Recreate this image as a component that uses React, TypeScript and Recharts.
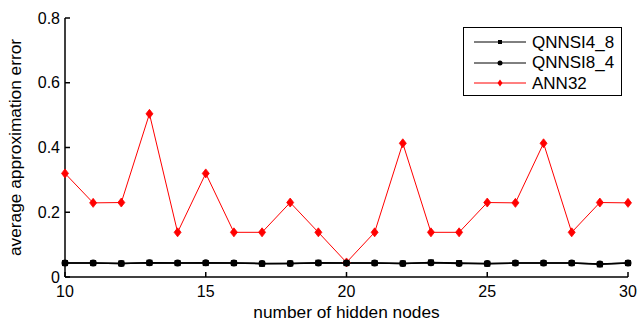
import React from 'react';
import {
  LineChart,
  Line,
  XAxis,
  YAxis,
  Legend,
} from 'recharts';

// hidden node counts on the x axis
const hiddenNodes = [10, 11, 12, 13, 14, 15, 16, 17, 18, 19, 20, 21, 22, 23, 24, 25, 26, 27, 28, 29, 30];

const qnnsi48 = [0.043, 0.043, 0.042, 0.044, 0.043, 0.043, 0.043, 0.041, 0.042, 0.044, 0.043, 0.043, 0.042, 0.045, 0.043, 0.041, 0.043, 0.043, 0.043, 0.039, 0.043];
const qnnsi84 = [0.043, 0.043, 0.042, 0.044, 0.043, 0.044, 0.043, 0.042, 0.042, 0.043, 0.043, 0.043, 0.042, 0.044, 0.042, 0.042, 0.043, 0.043, 0.043, 0.040, 0.043];
const ann32 = [0.32, 0.229, 0.23, 0.504, 0.138, 0.32, 0.138, 0.138, 0.23, 0.138, 0.045, 0.138, 0.413, 0.138, 0.138, 0.23, 0.229, 0.413, 0.138, 0.23, 0.229];

const xTicks = [10, 15, 20, 25, 30];
const yTicks = [0, 0.2, 0.4, 0.6, 0.8];

const data = hiddenNodes.map((n, i) => ({
  n,
  q48: qnnsi48[i],
  q84: qnnsi84[i],
  ann: ann32[i],
}));

const FONT = '"Liberation Sans", Arial, Helvetica, sans-serif';
const RED = '#ff0000';

const SquareDot = (props: any) => {
  const { cx, cy } = props;
  if (cx == null || cy == null) return null;
  return <rect x={cx - 3} y={cy - 3} width={6} height={6} fill="#000" />;
};

const CircleDot = (props: any) => {
  const { cx, cy } = props;
  if (cx == null || cy == null) return null;
  return <circle cx={cx} cy={cy} r={3.5} fill="#000" />;
};

const DiamondDot = (props: any) => {
  const { cx, cy } = props;
  if (cx == null || cy == null) return null;
  return (
    <path
      d={`M${cx},${cy - 4.5} L${cx + 3.5},${cy} L${cx},${cy + 4.5} L${cx - 3.5},${cy} Z`}
      fill={RED}
      stroke={RED}
      strokeWidth={0.8}
    />
  );
};

const legendItems = [
  { name: 'QNNSI4_8', color: '#000', marker: 'square' },
  { name: 'QNNSI8_4', color: '#000', marker: 'circle' },
  { name: 'ANN32', color: RED, marker: 'diamond' },
];

function LegendBox() {
  return (
    <div
      style={{
        border: '1.5px solid #000',
        background: '#fff',
        width: 159,
        height: 69,
        boxSizing: 'border-box',
        padding: '4px 0 0 0',
        fontFamily: FONT,
        fontSize: 17,
      }}
    >
      {legendItems.map((it) => (
        <div key={it.name} style={{ display: 'flex', alignItems: 'center', height: 20.5 }}>
          <svg width={68} height={14} style={{ display: 'block' }}>
            <line x1={10} x2={62} y1={7} y2={7} stroke={it.color} strokeWidth={1} />
            {it.marker === 'square' && <rect x={34} y={5} width={4} height={4} fill="#000" />}
            {it.marker === 'circle' && <circle cx={36} cy={7} r={2.5} fill="#000" />}
            {it.marker === 'diamond' && (
              <path d="M36,3.5 L38.5,7 L36,10.5 L33.5,7 Z" fill={RED} />
            )}
          </svg>
          <span style={{ color: '#000', lineHeight: 1 }}>{it.name}</span>
        </div>
      ))}
    </div>
  );
}

export default function App() {
  const tickStyle = { fontSize: 16, fill: '#000', fontFamily: FONT };
  return (
    <div style={{ position: 'absolute', left: 0, top: 0, width: 639, height: 321, background: '#fff' }}>
      <LineChart
        width={639}
        height={321}
        data={data}
        margin={{ top: 18, right: 11, bottom: 0, left: 0 }}
      >
        <XAxis
          dataKey="n"
          type="number"
          domain={[10, 30]}
          ticks={xTicks}
          height={44}
          tickSize={-5}
          tickMargin={14}
          tick={tickStyle}
          stroke="#000"
          strokeWidth={1.5}
          label={{
            value: 'number of hidden nodes',
            position: 'insideBottom',
            offset: 3,
            style: { fontSize: 17.3, fill: '#000', fontFamily: FONT },
          }}
        />
        <XAxis
          xAxisId="top"
          orientation="top"
          dataKey="n"
          type="number"
          domain={[10, 30]}
          ticks={xTicks}
          height={0}
          tickSize={-5}
          tickFormatter={() => ''}
          stroke="#000"
          strokeWidth={1.5}
        />
        <YAxis
          domain={[0, 0.8]}
          ticks={yTicks}
          width={65}
          tickSize={-5}
          tickMargin={10}
          tick={tickStyle}
          tickFormatter={(v: number) => `${v}`}
          stroke="#000"
          strokeWidth={1.5}
          label={{
            value: 'average approximation error',
            angle: -90,
            position: 'insideLeft',
            offset: 0,
            dx: 15,
            style: { fontSize: 17.3, fill: '#000', fontFamily: FONT, textAnchor: 'middle' },
          }}
        />
        <YAxis
          yAxisId="right"
          orientation="right"
          domain={[0, 0.8]}
          ticks={yTicks}
          width={0}
          tickSize={-5}
          tickFormatter={() => ''}
          stroke="#000"
          strokeWidth={1.5}
        />
        <Legend
          layout="horizontal"
          verticalAlign="middle"
          align="center"
          content={() => <LegendBox />}
          wrapperStyle={{ position: 'absolute', left: 463, top: 27, width: 160 }}
        />
        <Line
          type="linear"
          dataKey="ann"
          name="ANN32"
          stroke={RED}
          strokeWidth={1}
          dot={<DiamondDot />}
          activeDot={false}
          isAnimationActive={false}
        />
        <Line
          type="linear"
          dataKey="q48"
          name="QNNSI4_8"
          stroke="#000"
          strokeWidth={1.5}
          dot={<SquareDot />}
          activeDot={false}
          isAnimationActive={false}
        />
        <Line
          type="linear"
          dataKey="q84"
          name="QNNSI8_4"
          stroke="#000"
          strokeWidth={1.5}
          dot={<CircleDot />}
          activeDot={false}
          isAnimationActive={false}
        />
      </LineChart>
    </div>
  );
}
